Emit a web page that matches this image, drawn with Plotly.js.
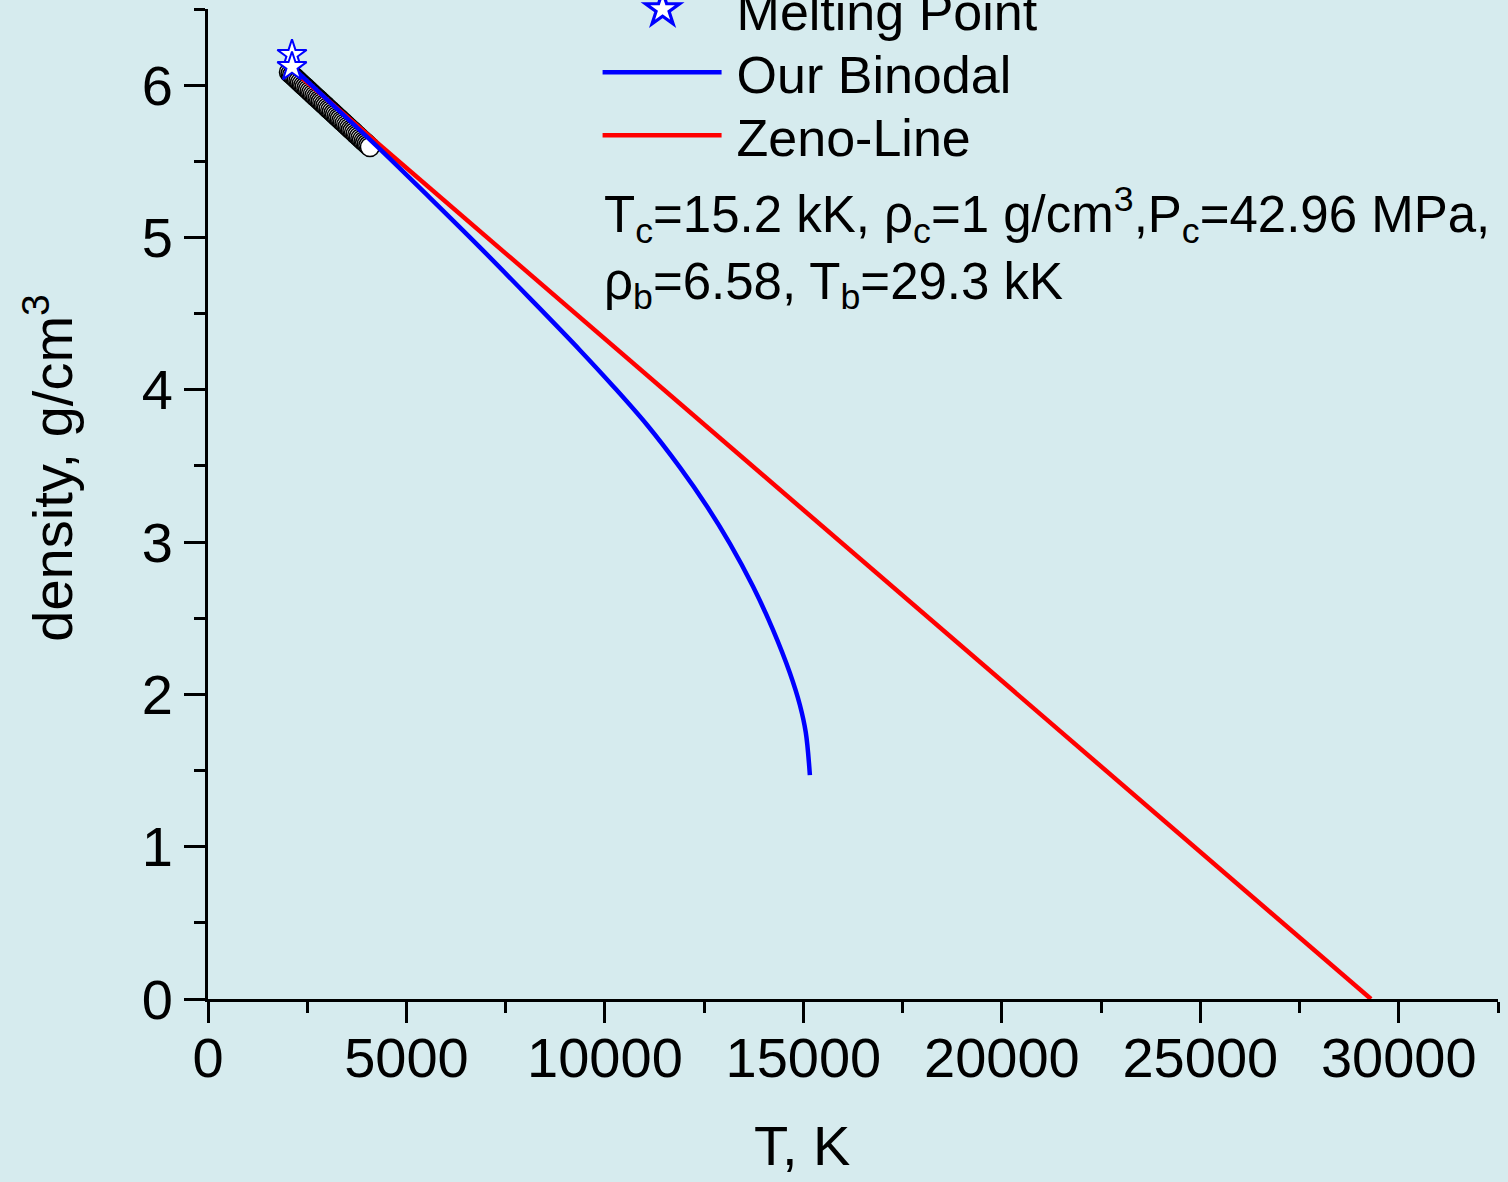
<!DOCTYPE html>
<html>
<head>
<meta charset="utf-8">
<script src="https://cdn.plot.ly/plotly-3.0.1.min.js"></script>
<style>
html,body{margin:0;padding:0;background:#d6ebee;}
#chart{width:1508px;height:1182px;}
</style>
</head>
<body>
<div id="chart"></div>
<script>
// Experimental liquid density points (open circles)
const expT = [2040,2080,2120,2160,2200,2240,2280,2320,2360,2400,2440,2480,2520,2560,2600,2640,2680,2720,2760,2800,2840,2880,2920,2960,3000,3040,3080,3120,3160,3200,3240,3280,3320,3360,3400,3440,3480,3520,3560,3600,3640,3680,3720,3760,3800,3840,3880,3920,3960,4000,4040,4080];
const expRho = [6.085,6.075,6.066,6.056,6.047,6.037,6.027,6.018,6.008,5.998,5.989,5.979,5.970,5.960,5.950,5.941,5.931,5.921,5.912,5.902,5.892,5.883,5.873,5.864,5.854,5.844,5.835,5.825,5.815,5.806,5.796,5.786,5.777,5.767,5.758,5.748,5.738,5.729,5.719,5.709,5.700,5.690,5.680,5.671,5.661,5.652,5.642,5.632,5.623,5.613,5.603,5.594];

// Melting point (stars)
const meltT = [2116, 2116];
const meltRho = [6.20, 6.12];

// Our binodal (liquid branch)
const binT = [2116, 3000, 4332, 5592, 6851, 8111, 9370, 10202, 11058, 11889, 12569, 13149, 13728, 14232, 14660, 14912, 15060, 15164];
const binRho = [6.12, 5.905, 5.58, 5.26, 4.935, 4.60, 4.26, 4.025, 3.77, 3.49, 3.235, 2.99, 2.71, 2.425, 2.14, 1.93, 1.75, 1.47];

// Zeno line
const zenoT = [2100, 29300];
const zenoRho = [6.108, 0];

// Axis ticks
const xTicks = [0, 5000, 10000, 15000, 20000, 25000, 30000];
const yTicks = [0, 1, 2, 3, 4, 5, 6];

const FONT = '"Liberation Sans", Arial, sans-serif';
const BG = '#d6ebee';

const traces = [
  {x: expT, y: expRho, type: 'scatter', mode: 'markers', name: 'Experiment', showlegend: false,
   marker: {symbol: 'circle', size: 19, color: '#ffffff', line: {color: '#000000', width: 1.5}}},
  {x: zenoT, y: zenoRho, type: 'scatter', mode: 'lines', name: 'Zeno-Line', legendrank: 3,
   line: {color: '#ff0000', width: 4.5}},
  {x: binT, y: binRho, type: 'scatter', mode: 'lines', name: 'Our Binodal', legendrank: 2,
   line: {color: '#0000ff', width: 4.5, shape: 'spline', smoothing: 1}},
  {x: meltT, y: meltRho, type: 'scatter', mode: 'markers', name: 'Melting Point', legendrank: 1,
   marker: {symbol: 'star', size: 22, color: '#ffffff', line: {color: '#0000ff', width: 2}}}
];

const layout = {
  width: 1508, height: 1182,
  paper_bgcolor: BG, plot_bgcolor: BG,
  margin: {l: 208, r: 10, t: 9, b: 183, autoexpand: false},
  font: {family: FONT, color: '#000000', size: 52},
  showlegend: true,
  legend: {x: 0.302, xanchor: 'left', y: 1.0404, yanchor: 'top', bgcolor: 'rgba(0,0,0,0)',
           font: {family: FONT, size: 52, color: '#000000'}, itemwidth: 129, tracegroupgap: 0,
           traceorder: 'normal'},
  xaxis: {
    range: [0, 32500], tickvals: xTicks, ticktext: xTicks.map(String),
    showline: true, linecolor: '#000000', linewidth: 3, mirror: false,
    ticks: 'outside', ticklen: 21, tickwidth: 3, tickcolor: '#000000', ticklabelstandoff: -13,
    minor: {dtick: 2500, ticks: 'outside', ticklen: 11, tickwidth: 3, tickcolor: '#000000'},
    showgrid: false, zeroline: false,
    tickfont: {family: FONT, size: 56, color: '#000000'}
  },
  yaxis: {
    range: [0, 6.5], tickvals: yTicks, ticktext: yTicks.map(String),
    showline: true, linecolor: '#000000', linewidth: 3, mirror: false,
    ticks: 'outside', ticklen: 21, tickwidth: 3, tickcolor: '#000000',
    minor: {dtick: 0.5, ticks: 'outside', ticklen: 11, tickwidth: 3, tickcolor: '#000000'},
    showgrid: false, zeroline: false,
    tickfont: {family: FONT, size: 56, color: '#000000'}
  },
  annotations: [
    {xref: 'x', yref: 'paper', x: 9930, y: 0.830, xanchor: 'left', yanchor: 'top', align: 'left',
     showarrow: false, font: {family: FONT, size: 51, color: '#000000'},
     text: 'T<sub>c</sub>=15.2 kK, ρ<sub>c</sub>=1 g/cm<sup>3</sup>,P<sub>c</sub>=42.96 MPa,<br>ρ<sub>b</sub>=6.58, T<sub>b</sub>=29.3 kK'},
    // x-axis title
    {xref: 'paper', yref: 'paper', x: 0.4605, y: -0.1475, xanchor: 'center', yanchor: 'middle',
     showarrow: false, font: {family: FONT, size: 56, color: '#000000'}, text: 'T, K'},
    // y-axis title
    {xref: 'paper', yref: 'paper', x: -0.123, y: 0.537, xanchor: 'center', yanchor: 'middle', textangle: -90,
     showarrow: false, font: {family: FONT, size: 56, color: '#000000'}, text: 'density, g/cm<sup>3</sup>'}
  ]
};

Plotly.newPlot('chart', traces, layout, {displayModeBar: false, staticPlot: true}).then(function(gd){
  const items = Array.from(gd.querySelectorAll('.legend .traces'));
  const parsed = items.map(function(tr){
    const m = /translate\(([-\d.]+)[ ,]+([-\d.]+)\)/.exec(tr.getAttribute('transform') || '');
    return {el: tr, x: m ? parseFloat(m[1]) : 0, y: m ? parseFloat(m[2]) : 0};
  }).sort(function(a, b){ return a.y - b.y; });
  const y0 = parsed.length ? parsed[0].y : 0;
  parsed.forEach(function(p, i){
    p.el.setAttribute('transform', 'translate(' + p.x + ',' + (y0 + i * 63) + ')');
    p.el.querySelectorAll('path.js-line').forEach(function(l){ l.setAttribute('d', 'M5,0h119'); });
    p.el.querySelectorAll('.legendpoints path.scatterpts').forEach(function(s){
      s.setAttribute('transform', 'translate(65,0) scale(1.6)');
    });
  });
});
</script>
</body>
</html>
